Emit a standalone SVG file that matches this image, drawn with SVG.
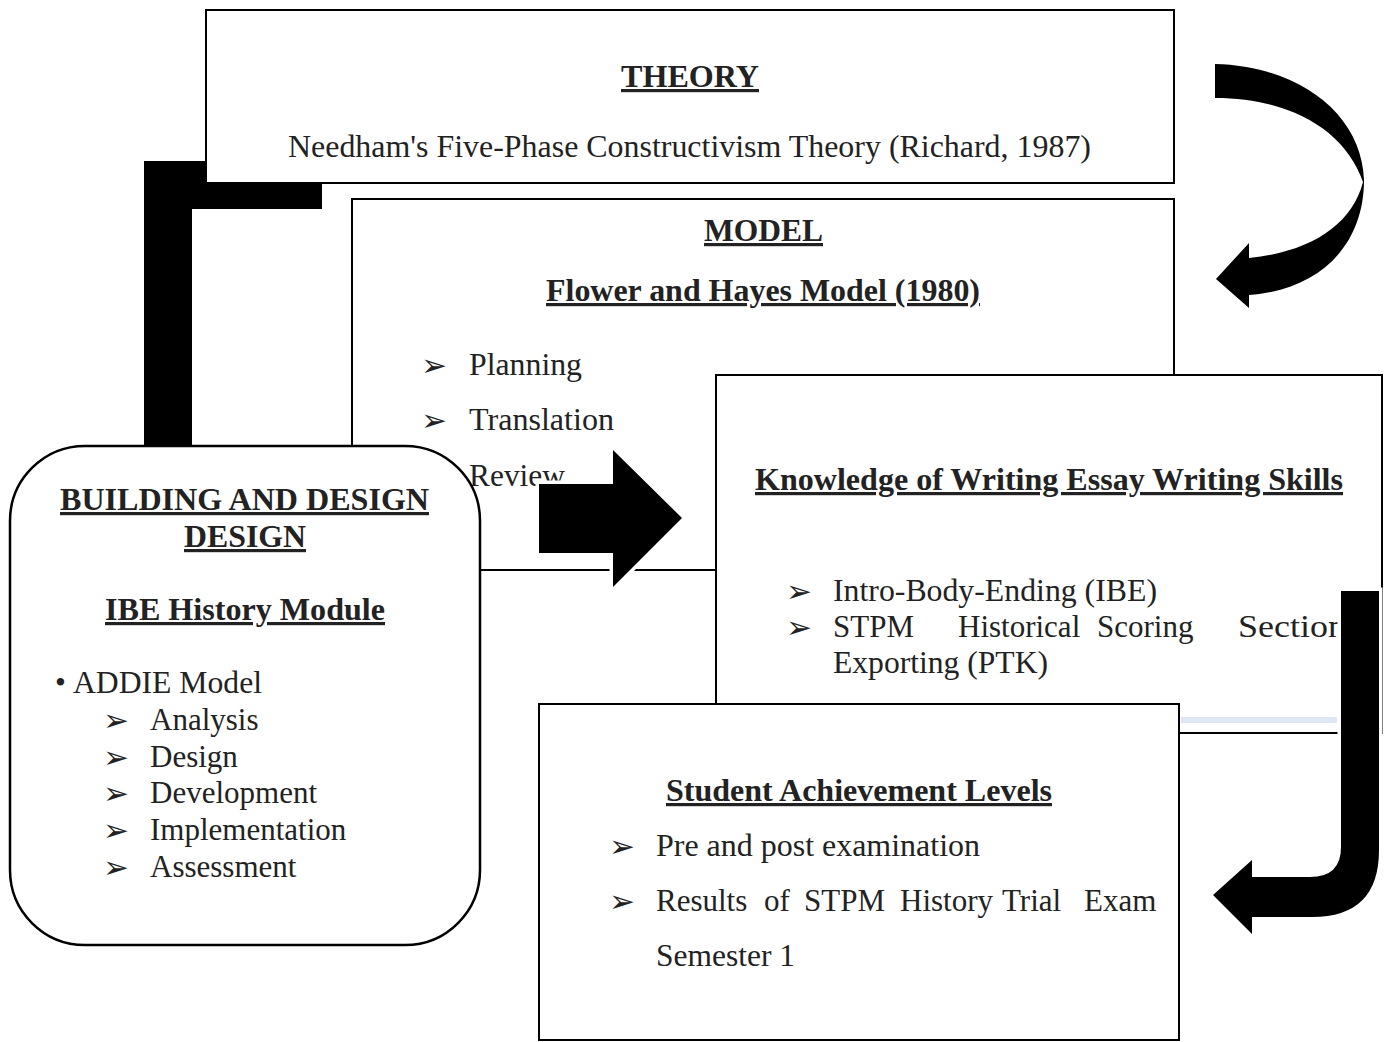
<svg xmlns="http://www.w3.org/2000/svg" width="1384" height="1042" viewBox="0 0 1384 1042">
<style>
.box{fill:#fff;stroke:#000;stroke-width:2}
.h{font-family:"Liberation Serif","Times New Roman",serif;font-weight:bold;font-size:32px;fill:#222;text-decoration:underline}
.t{font-family:"Liberation Serif","Times New Roman",serif;font-size:31px;fill:#222}
.b{font-family:"DejaVu Sans",sans-serif;font-size:31px;fill:#222}
.arr{fill:#000}
.arrw{fill:#000;stroke:#fff;stroke-width:7;paint-order:stroke}
</style>
<rect width="1384" height="1042" fill="#fff"/>
<g id="connectors">
<path id="c-l" class="arr" d="M144,161 H322 V209 H192 V446 H144 Z"/>
</g>
<g id="theory">
<rect class="box" x="206" y="10" width="968" height="173"/>
<text class="h" x="621" y="87" textLength="138" lengthAdjust="spacingAndGlyphs">THEORY</text>
<text class="t" x="288" y="157" textLength="803" lengthAdjust="spacingAndGlyphs">Needham's Five-Phase Constructivism Theory (Richard, 1987)</text>
</g>
<g id="model">
<rect class="box" x="352" y="199" width="822" height="371"/>
<text class="h" x="704" y="241" textLength="119" lengthAdjust="spacingAndGlyphs">MODEL</text>
<text class="h" x="546" y="301" textLength="434" lengthAdjust="spacingAndGlyphs">Flower and Hayes Model (1980)</text>
<text class="b" x="421" y="376">➢</text>
<text class="t" x="469" y="375" textLength="113" lengthAdjust="spacingAndGlyphs">Planning</text>
<text class="b" x="421" y="431">➢</text>
<text class="t" x="469" y="430" textLength="145" lengthAdjust="spacingAndGlyphs">Translation</text>
<text class="b" x="421" y="487">➢</text>
<text class="t" x="469" y="486" textLength="96" lengthAdjust="spacingAndGlyphs">Review</text>
</g>
<g id="knowledge">
<rect class="box" x="716" y="375" width="666" height="358"/>
<text class="h" x="755" y="490" textLength="588" lengthAdjust="spacingAndGlyphs">Knowledge of Writing Essay Writing Skills</text>
<text class="b" x="786" y="602">➢</text>
<text class="t" x="833" y="601" textLength="324" lengthAdjust="spacingAndGlyphs">Intro-Body-Ending (IBE)</text>
<text class="b" x="786" y="638">➢</text>
<text class="t" y="637"><tspan x="833">STPM</tspan><tspan x="958">Historical</tspan><tspan x="1097">Scoring</tspan><tspan x="1238" textLength="108" lengthAdjust="spacingAndGlyphs">Section</tspan></text>
<text class="t" x="833" y="673" textLength="215" lengthAdjust="spacingAndGlyphs">Exporting (PTK)</text>
<rect x="1181" y="717" width="156" height="6" fill="#dde8f4"/>
</g>
<g id="student">
<rect class="box" x="539" y="704" width="640" height="336"/>
<text class="h" x="666" y="801" textLength="386" lengthAdjust="spacingAndGlyphs">Student Achievement Levels</text>
<text class="b" x="609" y="857">➢</text>
<text class="t" x="656" y="856" textLength="324" lengthAdjust="spacingAndGlyphs">Pre and post examination</text>
<text class="b" x="609" y="912">➢</text>
<text class="t" y="911"><tspan x="656">Results</tspan><tspan x="764">of</tspan><tspan x="804">STPM</tspan><tspan x="900">History</tspan><tspan x="1002">Trial</tspan><tspan x="1084">Exam</tspan></text>
<text class="t" x="656" y="966" textLength="139" lengthAdjust="spacingAndGlyphs">Semester 1</text>
</g>
<g id="building">
<rect x="10" y="446" width="470" height="499" rx="75" ry="75" fill="#fff" stroke="#000" stroke-width="2.5"/>
<text class="h" x="60" y="510" textLength="369" lengthAdjust="spacingAndGlyphs">BUILDING AND DESIGN</text>
<text class="h" x="184" y="547" textLength="122" lengthAdjust="spacingAndGlyphs">DESIGN</text>
<text class="h" x="105" y="620" textLength="280" lengthAdjust="spacingAndGlyphs">IBE History Module</text>
<text class="t" x="55" y="693">•</text>
<text class="t" x="73" y="693" textLength="189" lengthAdjust="spacingAndGlyphs">ADDIE Model</text>
<text class="b" x="103" y="731">➢</text>
<text class="t" x="150" y="730">Analysis</text>
<text class="b" x="103" y="768">➢</text>
<text class="t" x="150" y="767">Design</text>
<text class="b" x="103" y="804">➢</text>
<text class="t" x="150" y="803">Development</text>
<text class="b" x="103" y="841">➢</text>
<text class="t" x="150" y="840">Implementation</text>
<text class="b" x="103" y="878">➢</text>
<text class="t" x="150" y="877">Assessment</text>
</g>
<g id="connectors-top">
<path id="c-right" class="arrw" d="M539,484 H613 V450 L682,518 L613,587 V553 H539 Z"/>
<path id="c-j" class="arrw" d="M1341,591 H1379 V850 Q1379,917 1312,917 H1252 V934 L1213,895 L1252,860 V877 H1310 Q1341,877 1341,847 Z"/>
<path id="c-curve" class="arr" d="M1215,64 C1300,66 1362,115 1364,180 C1364,245 1320,290 1249,295 L1249,308 L1216,279 L1249,243 L1249,258 C1310,252 1352,225 1363,182 C1345,130 1290,98 1215,98 Z"/>
</g>
</svg>
